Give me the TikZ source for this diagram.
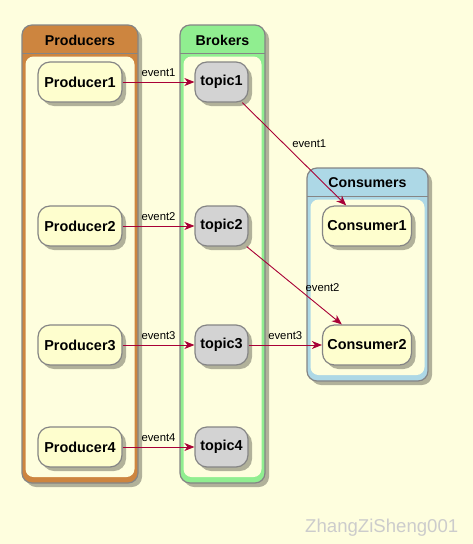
\documentclass[tikz,border=0pt]{standalone}
\usepackage{fontspec}
\setmainfont{Liberation Sans}
\usetikzlibrary{arrows.meta,shadows}

\definecolor{bgcream}{HTML}{FEFEDE}
\definecolor{nodecream}{HTML}{FEFECE}
\definecolor{topicgray}{HTML}{D3D3D3}
\definecolor{edgegray}{HTML}{858585}
\definecolor{arrowred}{HTML}{A80036}
\definecolor{prodorange}{HTML}{CD853F}
\definecolor{brokgreen}{HTML}{90EE90}
\definecolor{consblue}{HTML}{ADD8E6}
\definecolor{markgray}{HTML}{CCCCCC}

\tikzset{
    softshadow/.style={drop shadow={shadow xshift=4pt, shadow yshift=-4pt, fill=black, opacity=0.3}},
    pkgframe/.style={draw=edgegray, line width=1.2pt, rounded corners=10pt, softshadow},
    pkgtitle/.style={font=\fontsize{14.2}{17}\selectfont\bfseries, inner sep=0pt},
    comp/.style={draw=edgegray, line width=1.2pt, rounded corners=12pt, fill=nodecream,
        minimum height=40pt, inner sep=0pt, font=\fontsize{14.4}{17}\selectfont\bfseries, softshadow},
    prodbox/.style={comp, minimum width=84pt},
    topicbox/.style={comp, fill=topicgray, minimum width=53pt},
    consbox/.style={comp, minimum width=89pt},
    flow/.style={draw=arrowred, line width=0.9pt, -{Stealth[length=10pt, width=8pt, inset=3pt]}},
    evlabel/.style={font=\fontsize{11.3}{13}\selectfont, inner sep=1pt},
}

\begin{document}
\begin{tikzpicture}[x=1pt, y=-1pt]
        \fill[bgcream] (0,0) rectangle (473,544);
        \useasboundingbox (0,0) rectangle (473,544);

        % packages
        \draw[pkgframe, fill=prodorange] (22,25) rectangle (138,483);
        \draw[edgegray, line width=1.2pt] (22,53.5) -- (138,53.5);
        \fill[bgcream, rounded corners=8pt] (25.5,56.5) rectangle (134.5,477);
        \node[pkgtitle] (prodtitle) at (80,40) {Producers};

        \draw[pkgframe, fill=brokgreen] (180,25) rectangle (265,483);
        \draw[edgegray, line width=1.2pt] (180,53.5) -- (265,53.5);
        \fill[bgcream, rounded corners=8pt] (183.5,56.5) rectangle (261.5,477);
        \node[pkgtitle] (broktitle) at (222.5,40) {Brokers};

        \draw[pkgframe, fill=consblue] (307,168) rectangle (428,381);
        \draw[edgegray, line width=1.2pt] (307,196.5) -- (428,196.5);
        \fill[bgcream, rounded corners=8pt] (310.5,199.5) rectangle (424.5,375);
        \node[pkgtitle] (constitle) at (367.5,183) {Consumers};

        % components
        \node[prodbox] (prod1) at (80,82) {Producer1};
        \node[prodbox] (prod2) at (80,226) {Producer2};
        \node[prodbox] (prod3) at (80,345) {Producer3};
        \node[prodbox] (prod4) at (80,447) {Producer4};

        \node[topicbox] (topic1) at (221.5,82) {topic1};
        \node[topicbox] (topic2) at (221.5,226) {topic2};
        \node[topicbox] (topic3) at (221.5,345) {topic3};
        \node[topicbox] (topic4) at (221.5,447) {topic4};

        \node[consbox] (cons1) at (367,226) {Consumer1};
        \node[consbox] (cons2) at (367,345) {Consumer2};

        % events
        \draw[flow] (prod1) -- (topic1) node[evlabel, above=4pt, midway]{event1};
        \draw[flow] (prod2) -- (topic2) node[evlabel, above=4pt, midway]{event2};
        \draw[flow] (prod3) -- (topic3) node[evlabel, above=4pt, midway]{event3};
        \draw[flow] (prod4) -- (topic4) node[evlabel, above=4pt, midway]{event4};

        \draw[flow] (topic1) -- (cons1) node[evlabel, right=7pt, pos=0.4]{event1};
        \draw[flow] (topic2) -- (cons2) node[evlabel, right=7pt, pos=0.53]{event2};
        \draw[flow] (topic3) -- (cons2) node[evlabel, above=4pt, midway]{event3};

        \node[anchor=base west, inner sep=0pt, text=markgray, font=\fontsize{18.6}{22}\selectfont] (mark) at (305,532) {ZhangZiSheng001};
    \end{tikzpicture}
\end{document}
